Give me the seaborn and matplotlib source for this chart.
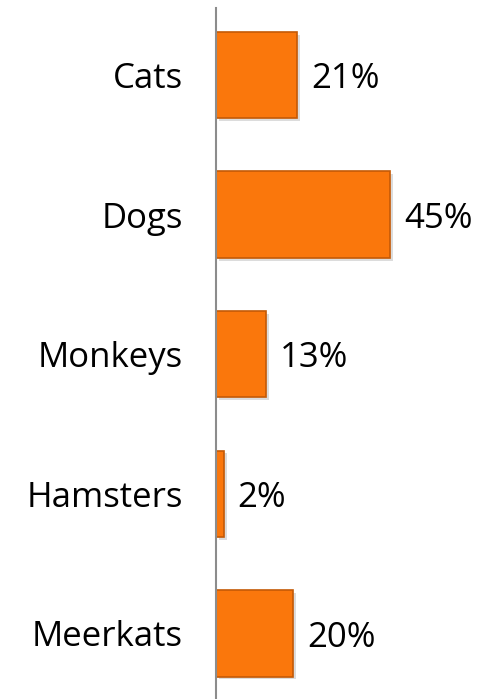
import pandas as pd
import matplotlib
matplotlib.use("Agg")
import matplotlib.pyplot as plt
import matplotlib.patheffects as pe
import seaborn as sns

animals = ["Cats", "Dogs", "Monkeys", "Hamsters", "Meerkats"]
shares = [21, 45, 13, 2, 20]

df = pd.DataFrame({"animal": animals, "share": shares})

sns.set_style("white")
plt.rcParams["font.family"] = ["Open Sans", "DejaVu Sans"]

fig = plt.figure(figsize=(4.85, 6.99), dpi=100)
ax = fig.add_axes([216 / 485, 0, 269 / 485, 691 / 699])

sns.barplot(data=df, x="share", y="animal", orient="h", width=0.62,
            color="#FA770C", saturation=1, edgecolor="#C45A06",
            linewidth=1.2, ax=ax)

# soft shadow, a bit like the bevelled office bars
for bar in ax.patches:
    bar.set_path_effects([pe.SimplePatchShadow(offset=(2, -2), shadow_rgbFace="#bbbbbb", alpha=0.5),
                          pe.Normal()])

# value labels
for i, v in enumerate(shares):
    ax.text(v + 3.6, i + 0.03, f"{v}%", va="center", ha="left",
            fontsize=25, color="black")

ax.set_xlim(0, 69.5)
ax.set_ylim(4.47, -0.48)
ax.set_xlabel("")
ax.set_ylabel("")
ax.set_xticks([])
ax.tick_params(axis="y", length=0, pad=24, labelsize=25, labelcolor="black")
for s in ["top", "right", "bottom"]:
    ax.spines[s].set_visible(False)
ax.spines["left"].set_color("#8c8c8c")
ax.spines["left"].set_linewidth(1.5)

fig.savefig("out.png", dpi=100)
